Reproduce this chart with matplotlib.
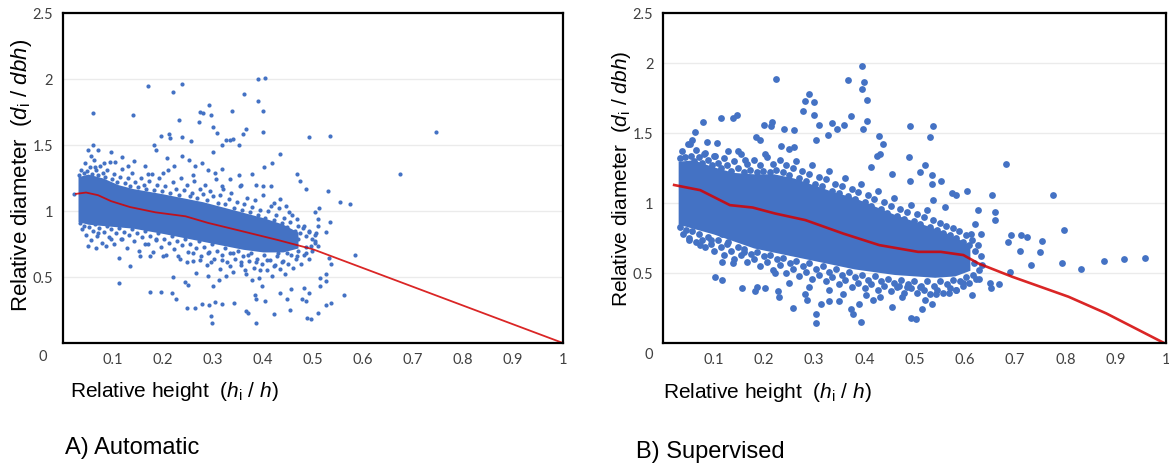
import matplotlib
matplotlib.use("Agg")
import matplotlib.pyplot as plt
import numpy as np

plt.rcParams['font.family'] = ['Liberation Sans', 'DejaVu Sans']
plt.rcParams['mathtext.fontset'] = 'custom'
plt.rcParams['mathtext.rm'] = 'Liberation Sans'
plt.rcParams['mathtext.it'] = 'Liberation Sans:italic'

BLUE = '#4472c4'
RED = '#d40000'

# ---- panel A (automatic) ----
a_line_x = [0.026, 0.046, 0.07, 0.096, 0.134, 0.185, 0.245, 0.29, 0.355, 0.43, 0.50, 1.0]
a_line_y = [1.13, 1.14, 1.12, 1.075, 1.03, 0.99, 0.96, 0.91, 0.85, 0.78, 0.71, 0.0]

# dense core of the cloud (too many points to read one by one)
a_band_x = [0.03, 0.05, 0.08, 0.11, 0.14, 0.17, 0.20, 0.24, 0.28, 0.32, 0.36, 0.40, 0.44, 0.47]
a_band_hi = [1.26, 1.28, 1.25, 1.20, 1.17, 1.15, 1.13, 1.10, 1.07, 1.03, 0.99, 0.95, 0.90, 0.84]
a_band_lo = [0.92, 0.90, 0.89, 0.88, 0.87, 0.85, 0.83, 0.80, 0.77, 0.74, 0.71, 0.69, 0.69, 0.72]

# speckled fringe round the core
a_fringe = [
    (0.032, 1.27), (0.036, 1.31), (0.041, 1.29), (0.044, 1.36), (0.048, 1.30), (0.053, 1.33),
    (0.057, 1.28), (0.061, 1.39), (0.066, 1.31), (0.069, 1.27), (0.074, 1.34), (0.079, 1.29),
    (0.083, 1.26), (0.088, 1.31), (0.093, 1.37), (0.097, 1.24), (0.102, 1.28), (0.108, 1.22),
    (0.113, 1.26), (0.118, 1.32), (0.124, 1.21), (0.129, 1.25), (0.133, 1.19), (0.138, 1.29),
    (0.144, 1.22), (0.149, 1.18), (0.155, 1.25), (0.161, 1.20), (0.166, 1.17), (0.172, 1.23),
    (0.177, 1.28), (0.181, 1.16), (0.187, 1.20), (0.192, 1.25), (0.198, 1.15), (0.203, 1.19),
    (0.209, 1.31), (0.214, 1.14), (0.219, 1.22), (0.226, 1.17), (0.232, 1.12), (0.236, 1.25),
    (0.241, 1.16), (0.247, 1.20), (0.253, 1.11), (0.258, 1.14), (0.262, 1.23), (0.268, 1.10),
    (0.273, 1.17), (0.279, 1.13), (0.284, 1.20), (0.288, 1.08), (0.294, 1.15), (0.299, 1.11),
    (0.305, 1.24), (0.309, 1.06), (0.314, 1.12), (0.319, 1.17), (0.324, 1.05), (0.331, 1.09),
    (0.336, 1.14), (0.342, 1.02), (0.347, 1.07), (0.353, 1.19), (0.357, 1.01), (0.362, 1.05),
    (0.368, 1.10), (0.373, 0.99), (0.378, 1.03), (0.384, 1.08), (0.389, 0.97), (0.394, 1.01),
    (0.399, 1.12), (0.404, 0.95), (0.409, 1.00), (0.415, 1.04), (0.421, 0.93), (0.426, 0.97),
    (0.431, 1.02), (0.437, 0.91), (0.442, 0.95), (0.448, 0.88), (0.453, 0.92), (0.458, 0.97),
    (0.463, 0.85), (0.469, 0.89), (0.474, 0.83), (0.479, 0.87), (0.486, 0.81), (0.492, 0.85),
    (0.498, 0.79), (0.505, 0.82),
    (0.033, 0.91), (0.037, 0.86), (0.042, 0.89), (0.046, 0.82), (0.051, 0.88), (0.055, 0.78),
    (0.059, 0.85), (0.064, 0.90), (0.068, 0.81), (0.072, 0.87), (0.077, 0.76), (0.082, 0.84),
    (0.087, 0.89), (0.091, 0.80), (0.095, 0.86), (0.101, 0.75), (0.106, 0.83), (0.111, 0.87),
    (0.116, 0.79), (0.121, 0.84), (0.127, 0.72), (0.131, 0.82), (0.137, 0.86), (0.142, 0.77),
    (0.147, 0.83), (0.152, 0.70), (0.158, 0.80), (0.163, 0.85), (0.169, 0.75), (0.174, 0.81),
    (0.179, 0.69), (0.185, 0.78), (0.190, 0.83), (0.195, 0.73), (0.201, 0.79), (0.206, 0.67),
    (0.212, 0.76), (0.217, 0.81), (0.222, 0.71), (0.228, 0.77), (0.233, 0.64), (0.238, 0.74),
    (0.244, 0.79), (0.249, 0.69), (0.254, 0.75), (0.260, 0.62), (0.265, 0.72), (0.271, 0.77),
    (0.276, 0.66), (0.281, 0.73), (0.287, 0.59), (0.292, 0.69), (0.297, 0.75), (0.302, 0.64),
    (0.308, 0.70), (0.313, 0.56), (0.318, 0.67), (0.323, 0.72), (0.328, 0.61), (0.334, 0.68),
    (0.339, 0.54), (0.344, 0.64), (0.350, 0.70), (0.355, 0.59), (0.360, 0.66), (0.366, 0.52),
    (0.371, 0.62), (0.376, 0.68), (0.382, 0.57), (0.387, 0.64), (0.392, 0.49), (0.397, 0.60),
    (0.402, 0.67), (0.407, 0.55), (0.413, 0.63), (0.418, 0.51), (0.423, 0.59), (0.428, 0.66),
    (0.433, 0.56), (0.439, 0.62), (0.444, 0.52), (0.449, 0.60), (0.455, 0.67), (0.460, 0.57),
    (0.465, 0.64), (0.470, 0.70), (0.476, 0.60), (0.481, 0.67), (0.487, 0.73), (0.493, 0.64),
    (0.499, 0.70), (0.504, 0.76),
]

# scattered single points
a_pts = [
    (0.059, 1.745), (0.14, 1.73), (0.169, 1.95), (0.22, 1.90), (0.237, 1.96), (0.232, 1.69),
    (0.237, 1.56), (0.255, 1.53), (0.195, 1.57), (0.211, 1.585), (0.214, 1.55), (0.274, 1.75),
    (0.28, 1.74), (0.292, 1.80), (0.296, 1.725), (0.272, 1.675), (0.299, 1.64), (0.308, 1.59),
    (0.338, 1.76), (0.362, 1.89), (0.389, 2.0), (0.404, 2.01), (0.389, 1.83), (0.40, 1.755),
    (0.40, 1.60), (0.366, 1.62), (0.359, 1.58), (0.333, 1.54), (0.326, 1.54), (0.339, 1.545),
    (0.351, 1.50), (0.318, 1.50), (0.299, 1.45), (0.493, 1.56), (0.535, 1.565), (0.746, 1.60),
    (0.674, 1.28), (0.433, 1.43), (0.402, 1.33), (0.417, 1.36), (0.467, 1.28), (0.474, 1.23),
    (0.486, 1.17), (0.53, 1.15), (0.554, 1.07), (0.575, 1.05), (0.504, 0.99), (0.513, 1.02),
    (0.511, 0.94), (0.535, 0.92), (0.526, 0.84), (0.511, 0.89), (0.533, 0.645), (0.537, 0.60),
    (0.585, 0.67), (0.563, 0.36), (0.526, 0.52), (0.515, 0.49), (0.526, 0.47), (0.515, 0.43),
    (0.536, 0.30), (0.526, 0.29), (0.511, 0.23), (0.489, 0.19), (0.496, 0.18), (0.493, 0.38),
    (0.486, 0.315), (0.478, 0.33), (0.482, 0.42), (0.456, 0.41), (0.453, 0.25), (0.447, 0.33),
    (0.433, 0.38), (0.422, 0.22), (0.404, 0.315), (0.385, 0.15), (0.385, 0.33), (0.37, 0.226),
    (0.366, 0.246), (0.383, 0.366), (0.397, 0.43), (0.378, 0.48), (0.363, 0.556), (0.341, 0.30),
    (0.318, 0.297), (0.304, 0.307), (0.296, 0.206), (0.297, 0.15), (0.292, 0.29), (0.277, 0.297),
    (0.263, 0.264), (0.248, 0.264), (0.226, 0.33), (0.22, 0.50), (0.218, 0.38), (0.243, 0.46),
    (0.25, 0.44), (0.266, 0.53), (0.289, 0.505), (0.30, 0.43), (0.311, 0.48), (0.326, 0.505),
    (0.174, 0.39), (0.196, 0.39), (0.111, 0.455), (0.133, 0.58), (0.112, 0.645), (0.154, 0.66),
    (0.174, 0.66), (0.20, 0.66), (0.05, 0.734), (0.065, 0.72), (0.085, 0.734), (0.096, 0.785),
    (0.118, 0.785), (0.07, 0.836), (0.163, 0.747), (0.185, 0.785),
    (0.055, 1.42), (0.059, 1.50), (0.05, 1.46), (0.07, 1.46), (0.096, 1.445), (0.118, 1.41),
    (0.104, 1.37), (0.081, 1.36), (0.063, 1.33), (0.141, 1.38), (0.13, 1.34), (0.163, 1.34),
    (0.17, 1.28), (0.185, 1.46), (0.181, 1.50), (0.207, 1.40), (0.20, 1.29), (0.222, 1.34),
    (0.238, 1.42), (0.252, 1.39), (0.263, 1.34), (0.277, 1.36), (0.289, 1.31), (0.259, 1.27),
    (0.304, 1.29), (0.318, 1.32), (0.333, 1.24), (0.351, 1.27), (0.378, 1.28), (0.385, 1.20),
    (0.40, 1.19), (0.415, 1.19), (0.355, 1.20), (0.318, 1.19), (0.433, 1.09), (0.445, 1.04),
    (0.422, 1.06), (0.452, 0.99), (0.467, 0.94), (0.482, 0.89), (0.493, 0.84), (0.46, 0.84),
    (0.47, 0.785), (0.496, 0.734), (0.485, 0.68), (0.467, 0.66), (0.448, 0.68), (0.437, 0.61),
    (0.422, 0.58), (0.408, 0.63), (0.393, 0.556), (0.385, 0.61), (0.355, 0.61), (0.333, 0.58),
    (0.318, 0.63), (0.296, 0.61), (0.274, 0.63), (0.248, 0.61), (0.23, 0.66), (0.259, 0.68),
    (0.289, 0.68), (0.34, 0.68), (0.37, 0.67), (0.40, 0.71), (0.43, 0.68), (0.506, 0.836),
    (0.504, 0.77), (0.511, 0.734), (0.022, 1.13),
]

# ---- panel B (supervised) ----
b_line_x = [0.022, 0.074, 0.133, 0.178, 0.223, 0.283, 0.358, 0.43, 0.507, 0.552, 0.597, 0.627, 0.694, 0.806, 0.881, 0.996]
b_line_y = [1.13, 1.093, 0.986, 0.969, 0.926, 0.879, 0.783, 0.70, 0.652, 0.652, 0.629, 0.569, 0.474, 0.331, 0.212, 0.0]

b_band_x = [0.03, 0.06, 0.10, 0.14, 0.18, 0.22, 0.26, 0.30, 0.34, 0.38, 0.42, 0.46, 0.50, 0.54, 0.58, 0.61]
b_band_hi = [1.30, 1.31, 1.26, 1.22, 1.21, 1.21, 1.18, 1.13, 1.08, 1.04, 0.98, 0.92, 0.87, 0.82, 0.76, 0.70]
b_band_lo = [0.85, 0.82, 0.78, 0.73, 0.68, 0.65, 0.62, 0.59, 0.56, 0.53, 0.51, 0.49, 0.48, 0.47, 0.48, 0.52]

b_fringe = [
    (0.033, 1.32), (0.038, 1.37), (0.044, 1.33), (0.049, 1.42), (0.055, 1.34), (0.061, 1.30),
    (0.066, 1.38), (0.072, 1.33), (0.078, 1.29), (0.084, 1.36), (0.090, 1.31), (0.097, 1.27),
    (0.103, 1.34), (0.109, 1.29), (0.116, 1.25), (0.122, 1.32), (0.128, 1.27), (0.135, 1.23),
    (0.141, 1.30), (0.148, 1.25), (0.154, 1.35), (0.160, 1.22), (0.167, 1.28), (0.173, 1.24),
    (0.180, 1.31), (0.186, 1.22), (0.193, 1.27), (0.199, 1.23), (0.206, 1.33), (0.212, 1.22),
    (0.219, 1.28), (0.225, 1.24), (0.232, 1.31), (0.238, 1.22), (0.245, 1.27), (0.251, 1.20),
    (0.258, 1.25), (0.264, 1.30), (0.271, 1.18), (0.277, 1.23), (0.284, 1.16), (0.290, 1.21),
    (0.297, 1.27), (0.303, 1.14), (0.310, 1.19), (0.316, 1.12), (0.323, 1.17), (0.329, 1.23),
    (0.336, 1.09), (0.342, 1.14), (0.349, 1.07), (0.355, 1.12), (0.362, 1.18), (0.368, 1.05),
    (0.375, 1.10), (0.381, 1.03), (0.388, 1.08), (0.394, 1.14), (0.401, 1.01), (0.407, 1.06),
    (0.414, 0.98), (0.420, 1.03), (0.427, 1.09), (0.433, 0.96), (0.440, 1.01), (0.446, 0.93),
    (0.453, 0.98), (0.459, 1.04), (0.466, 0.91), (0.472, 0.96), (0.479, 0.89), (0.485, 0.94),
    (0.492, 0.99), (0.498, 0.87), (0.505, 0.92), (0.511, 0.85), (0.518, 0.90), (0.524, 0.95),
    (0.531, 0.83), (0.537, 0.88), (0.544, 0.81), (0.550, 0.86), (0.557, 0.79), (0.563, 0.84),
    (0.570, 0.77), (0.576, 0.82), (0.583, 0.75), (0.589, 0.80), (0.596, 0.72), (0.602, 0.77),
    (0.609, 0.70), (0.615, 0.74), (0.621, 0.66), (0.627, 0.70), (0.633, 0.62),
    (0.034, 0.83), (0.040, 0.78), (0.046, 0.81), (0.052, 0.75), (0.058, 0.80), (0.065, 0.72),
    (0.071, 0.78), (0.077, 0.74), (0.083, 0.69), (0.090, 0.76), (0.096, 0.71), (0.102, 0.66),
    (0.109, 0.74), (0.115, 0.69), (0.122, 0.63), (0.128, 0.71), (0.135, 0.66), (0.141, 0.60),
    (0.148, 0.69), (0.154, 0.63), (0.161, 0.67), (0.167, 0.58), (0.174, 0.64), (0.180, 0.60),
    (0.187, 0.65), (0.193, 0.55), (0.200, 0.62), (0.206, 0.58), (0.213, 0.63), (0.219, 0.52),
    (0.226, 0.60), (0.232, 0.56), (0.239, 0.61), (0.245, 0.50), (0.252, 0.57), (0.258, 0.53),
    (0.265, 0.59), (0.271, 0.48), (0.278, 0.55), (0.284, 0.51), (0.291, 0.57), (0.297, 0.46),
    (0.304, 0.53), (0.310, 0.49), (0.317, 0.55), (0.323, 0.44), (0.330, 0.51), (0.336, 0.47),
    (0.343, 0.53), (0.349, 0.42), (0.356, 0.49), (0.362, 0.45), (0.369, 0.51), (0.375, 0.40),
    (0.382, 0.47), (0.388, 0.43), (0.395, 0.49), (0.401, 0.39), (0.408, 0.45), (0.414, 0.42),
    (0.421, 0.48), (0.427, 0.38), (0.434, 0.44), (0.440, 0.41), (0.447, 0.46), (0.453, 0.37),
    (0.460, 0.43), (0.466, 0.40), (0.473, 0.45), (0.479, 0.36), (0.486, 0.42), (0.492, 0.39),
    (0.499, 0.44), (0.505, 0.36), (0.512, 0.41), (0.518, 0.38), (0.525, 0.44), (0.531, 0.35),
    (0.538, 0.41), (0.544, 0.38), (0.551, 0.44), (0.557, 0.36), (0.564, 0.42), (0.570, 0.39),
    (0.577, 0.45), (0.583, 0.38), (0.590, 0.44), (0.596, 0.41), (0.603, 0.47), (0.609, 0.43),
    (0.616, 0.49), (0.622, 0.46), (0.628, 0.52), (0.634, 0.56),
]

b_pts = [
    (0.395, 1.98), (0.40, 1.87), (0.395, 1.82), (0.367, 1.88), (0.224, 1.89), (0.406, 1.74),
    (0.29, 1.78), (0.283, 1.73), (0.30, 1.72), (0.278, 1.66), (0.373, 1.62), (0.30, 1.63),
    (0.406, 1.59), (0.398, 1.53), (0.36, 1.56), (0.345, 1.53), (0.335, 1.57), (0.31, 1.56),
    (0.327, 1.49), (0.305, 1.45), (0.24, 1.53), (0.26, 1.52), (0.216, 1.58), (0.20, 1.56),
    (0.215, 1.55), (0.184, 1.47), (0.193, 1.45), (0.203, 1.35), (0.43, 1.48), (0.438, 1.42),
    (0.425, 1.34), (0.432, 1.35), (0.49, 1.55), (0.537, 1.55), (0.53, 1.47), (0.488, 1.33),
    (0.52, 1.27), (0.51, 1.22), (0.535, 1.20), (0.553, 1.16), (0.535, 1.14), (0.575, 1.07),
    (0.582, 1.06), (0.604, 1.09), (0.654, 1.06), (0.682, 1.28), (0.775, 1.06), (0.66, 0.94),
    (0.66, 0.88), (0.633, 0.78), (0.626, 0.95), (0.62, 0.85), (0.712, 0.77), (0.724, 0.76),
    (0.692, 0.77), (0.686, 0.72), (0.753, 0.73), (0.71, 0.66), (0.749, 0.65), (0.797, 0.81),
    (0.793, 0.57), (0.731, 0.56), (0.83, 0.53), (0.876, 0.59), (0.917, 0.60), (0.958, 0.61),
    (0.69, 0.51), (0.649, 0.43), (0.651, 0.39), (0.668, 0.42), (0.615, 0.34), (0.628, 0.46),
    (0.568, 0.36),
    (0.079, 1.58), (0.115, 1.61), (0.14, 1.61), (0.147, 1.63), (0.064, 1.51), (0.057, 1.45),
    (0.053, 1.42), (0.088, 1.44), (0.107, 1.43), (0.13, 1.37), (0.081, 1.35), (0.101, 1.34),
    (0.148, 1.37), (0.163, 1.31),
    (0.051, 0.74), (0.074, 0.70), (0.096, 0.74), (0.118, 0.78), (0.13, 0.72), (0.104, 0.47),
    (0.117, 0.45), (0.118, 0.58), (0.14, 0.57), (0.16, 0.65), (0.156, 0.39), (0.186, 0.40),
    (0.182, 0.37), (0.202, 0.39), (0.223, 0.50), (0.229, 0.37), (0.231, 0.33), (0.258, 0.25),
    (0.283, 0.35), (0.287, 0.31), (0.305, 0.21), (0.305, 0.145), (0.314, 0.28), (0.329, 0.30),
    (0.35, 0.30), (0.374, 0.24), (0.378, 0.21), (0.393, 0.15), (0.39, 0.28), (0.404, 0.34),
    (0.417, 0.31), (0.432, 0.33), (0.455, 0.26), (0.475, 0.33), (0.493, 0.18), (0.503, 0.17),
    (0.515, 0.24), (0.52, 0.31), (0.535, 0.28), (0.542, 0.35), (0.51, 0.40), (0.485, 0.40),
    (0.47, 0.41), (0.358, 0.35), (0.33, 0.38), (0.29, 0.40), (0.25, 0.43),
    (0.25, 1.39), (0.26, 1.40), (0.235, 1.41), (0.414, 1.26), (0.455, 1.21), (0.49, 1.16),
    (0.537, 1.02), (0.56, 0.97), (0.612, 0.78), (0.619, 0.57), (0.597, 0.43), (0.582, 0.38),
]

x_ticks = [0.1, 0.2, 0.3, 0.4, 0.5, 0.6, 0.7, 0.8, 0.9, 1.0]
x_labels = ['0.1', '0.2', '0.3', '0.4', '0.5', '0.6', '0.7', '0.8', '0.9', '1']
y_ticks = [0.5, 1.0, 1.5, 2.0, 2.5]
y_labels = ['0.5', '1', '1.5', '2', '2.5']

fig = plt.figure(figsize=(11.69, 4.66), dpi=100)
ax_a = fig.add_axes([0.0539, 0.2639, 0.4277, 0.7082])
ax_b = fig.add_axes([0.5672, 0.2639, 0.4303, 0.7082])


def style(ax, ytop, ms, band_x, band_lo, band_hi, fringe, pts, lx, ly, lw):
    ax.set_xlim(0, 1)
    ax.set_ylim(0, ytop)
    ax.fill_between(band_x, band_lo, band_hi, color=BLUE, lw=0, zorder=2)
    p = np.array(fringe + pts)
    ax.scatter(p[:, 0], p[:, 1], s=ms, color=BLUE, lw=0, zorder=3)
    ax.plot(lx, ly, color=RED, lw=lw, alpha=0.85, zorder=4)
    ax.set_xticks(x_ticks)
    ax.set_xticklabels(x_labels)
    yt = [t for t in y_ticks if t < ytop - 0.05] + [ytop]
    ax.set_yticks(yt)
    ax.set_yticklabels(y_labels[:len(yt)])
    ax.grid(axis='y', color='#ebebeb', lw=1, zorder=0)
    ax.tick_params(length=0, labelsize=10.5, colors='#404040', pad=7)
    for lab in ax.get_xticklabels() + ax.get_yticklabels():
        lab.set_family(['Lato', 'DejaVu Sans'])
    for sp in ax.spines.values():
        sp.set_linewidth(1.6)
        sp.set_color('black')
        sp.set_zorder(5)


style(ax_a, 2.5, 9, a_band_x, a_band_lo, a_band_hi, a_fringe, a_pts, a_line_x, a_line_y, 1.3)
style(ax_b, 2.36, 24, b_band_x, b_band_lo, b_band_hi, b_fringe, b_pts, b_line_x, b_line_y, 1.9)

ylab = r'Relative diameter  ($d_{\mathregular{i}}$ / $dbh$)'
xlab = r'Relative height  ($h_{\mathregular{i}}$ / $h$)'
fig.text(0.018, 0.624, ylab, rotation=90, ha='center', va='center', fontsize=16)
fig.text(0.532, 0.616, ylab, rotation=90, ha='center', va='center', fontsize=15)
fig.text(0.0599, 0.160, xlab, ha='left', va='center', fontsize=15)
fig.text(0.567, 0.157, xlab, ha='left', va='center', fontsize=15)
fig.text(0.0368, 0.234, '0', ha='center', va='center', fontsize=10.5, color='#404040', family=['Lato', 'DejaVu Sans'])
fig.text(0.555, 0.238, '0', ha='center', va='center', fontsize=10.5, color='#404040', family=['Lato', 'DejaVu Sans'])
fig.text(0.0556, 0.0386, 'A) Automatic', ha='left', va='center', fontsize=17)
fig.text(0.544, 0.030, 'B) Supervised', ha='left', va='center', fontsize=17)

fig.savefig('out.png', dpi=100)
